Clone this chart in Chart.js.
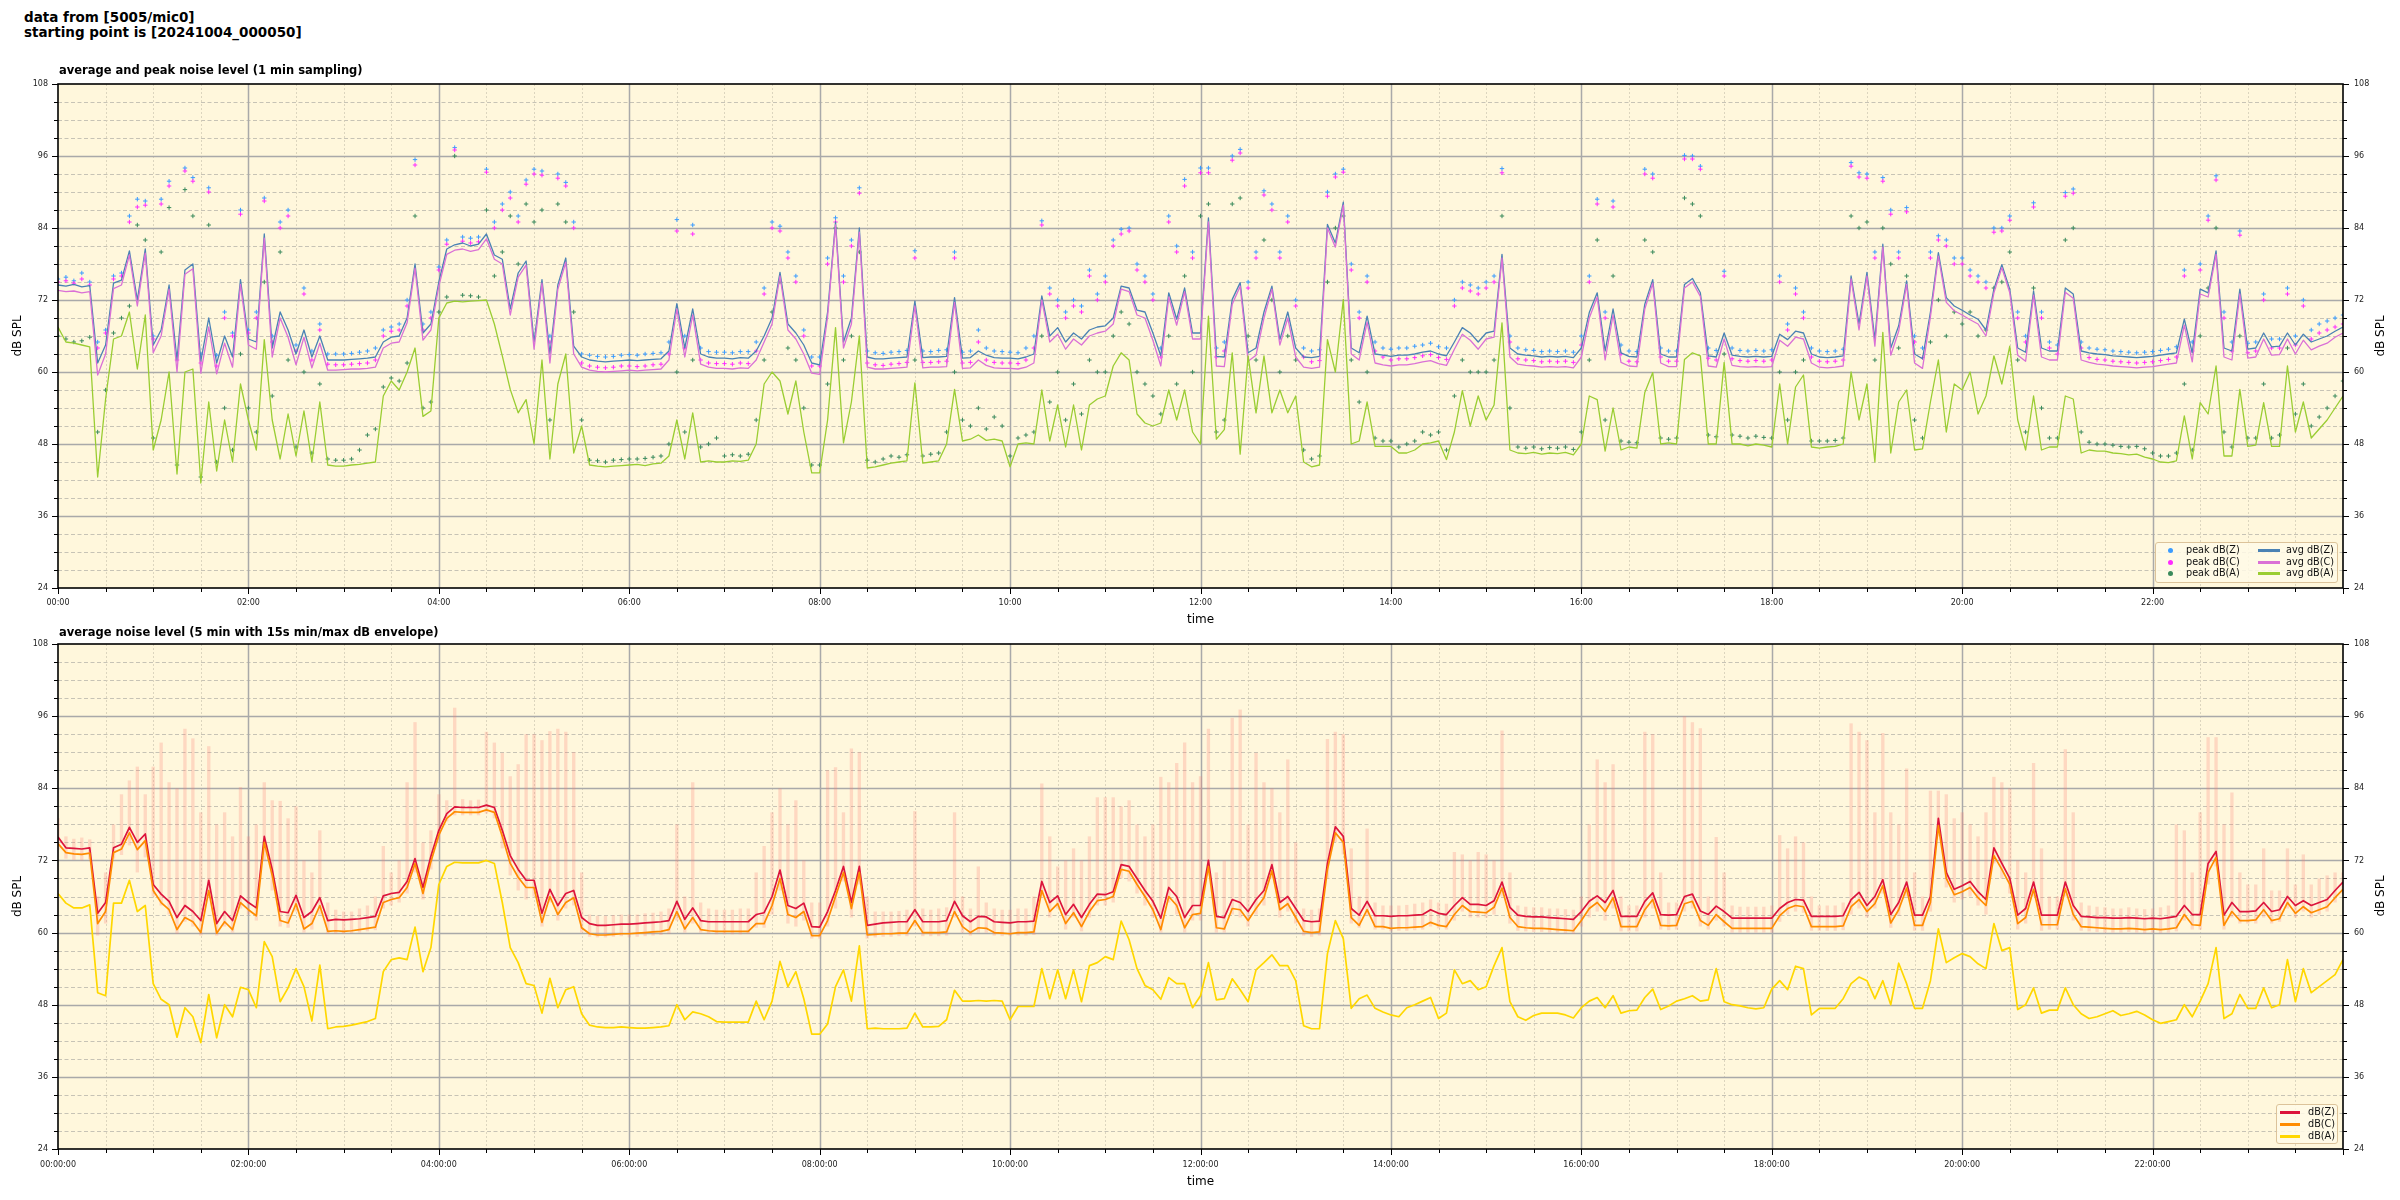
<!DOCTYPE html>
<html>
<head>
<meta charset="utf-8">
<title>noise level 5005/mic0</title>
<script src="https://cdn.jsdelivr.net/npm/chart.js@4.4.1/dist/chart.umd.min.js"></script>
<style>
  html, body { margin: 0; padding: 0; background: #fff; }
  body { position: relative; width: 2400px; height: 1200px; overflow: hidden; font-family: "DejaVu Sans", sans-serif; color: #000; }
  canvas { position: absolute; left: 0; }
  .txt { position: absolute; white-space: nowrap; z-index: 5; }
  .bold { font-weight: bold; }
  .ylab { font-size: 12px; transform: translate(-50%, -50%) rotate(-90deg); }
  .legend { position: absolute; z-index: 6; box-sizing: border-box; border: 1px solid #dcc39a; border-radius: 3px; background: rgba(255, 250, 232, 0.85); font-size: 9.7px; color: #111; }
  .legend span { position: absolute; white-space: nowrap; line-height: 1; }
</style>
</head>
<body>
<div class="txt bold" style="left:24px; top:10px; font-size:13.5px; line-height:15px;">data from [5005/mic0]<br>starting point is [20241004_000050]</div>
<div class="txt bold" style="left:59px; top:63px; font-size:11.5px; line-height:14px;">average and peak noise level (1 min sampling)</div>
<div class="txt bold" style="left:59px; top:625px; font-size:11.5px; line-height:14px;">average noise level (5 min with 15s min/max dB envelope)</div>
<div class="txt ylab" style="left:2380px; top:336px;">dB SPL</div>
<div class="txt ylab" style="left:2380px; top:896px;">dB SPL</div>
<canvas id="topChart" width="2400" height="564" style="top:68px"></canvas>
<canvas id="bottomChart" width="2400" height="568" style="top:628px"></canvas>
<script>
// all series every 5 minutes, 00:00 .. 24:00 (289 values)
const STEP_MIN = 5;

// ---- top panel: 1 min averages ----
const avgZ = [
  74.5, 74.3, 74.6, 74.2, 74.4, 61.5, 64.5, 74.8, 75.3, 80.2, 72.0, 80.5, // 00h
  64.5, 67.0, 74.5, 62.0, 77.0, 78.0, 61.8, 69.0, 61.5, 66.0, 62.5, 75.4,
  65.5, 65.0, 83.0, 64.0, 70.0, 67.0, 63.0, 67.0, 62.5, 66.0, 62.0, 62.0,
  62.0, 62.1, 62.2, 62.3, 62.5, 65.0, 65.8, 66.0, 69.0, 78.0, 66.5, 68.0,
  75.0, 80.5, 81.2, 81.5, 81.0, 81.3, 83.0, 79.5, 78.8, 70.5, 76.5, 78.5, // 04h
  65.0, 75.4, 63.0, 74.5, 79.0, 64.3, 62.5, 62.0, 61.8, 61.7, 61.8, 61.9,
  62.0, 61.9, 62.0, 62.1, 62.2, 63.5, 71.4, 64.0, 70.5, 63.0, 62.5, 62.3,
  62.3, 62.2, 62.4, 62.3, 63.5, 66.0, 69.0, 76.6, 68.0, 66.5, 64.5, 61.5,
  61.2, 70.0, 85.0, 65.0, 69.0, 84.0, 62.5, 62.2, 62.2, 62.3, 62.4, 62.5, // 08h
  71.8, 62.4, 62.5, 62.5, 62.6, 72.4, 62.3, 62.4, 63.5, 62.8, 62.4, 62.3,
  62.3, 62.2, 62.5, 63.0, 72.7, 66.0, 67.4, 65.0, 66.5, 65.5, 67.0, 67.5,
  67.7, 69.0, 74.3, 74.0, 70.3, 70.0, 66.5, 62.7, 73.2, 68.8, 74.0, 66.5,
  66.5, 85.7, 62.6, 62.5, 72.1, 74.9, 63.2, 64.0, 70.0, 74.3, 65.4, 70.0, // 12h
  64.0, 62.5, 62.4, 62.6, 84.6, 81.5, 88.3, 64.0, 63.2, 69.3, 63.0, 62.8,
  62.6, 62.8, 62.8, 63.0, 63.3, 63.5, 63.0, 62.7, 65.0, 67.4, 66.5, 65.0,
  66.5, 66.8, 79.6, 64.0, 63.0, 62.8, 62.7, 62.5, 62.6, 62.5, 62.6, 62.4,
  64.0, 69.9, 73.2, 63.5, 70.5, 63.2, 62.6, 62.5, 71.3, 75.4, 63.0, 62.5, // 16h
  62.5, 74.6, 75.6, 73.2, 62.7, 62.5, 66.5, 62.8, 62.6, 62.5, 62.6, 62.5,
  62.6, 66.3, 65.4, 66.8, 66.5, 63.0, 62.5, 62.4, 62.5, 62.7, 76.0, 68.0,
  76.6, 65.4, 81.3, 64.0, 67.7, 75.2, 63.0, 62.2, 70.0, 79.9, 72.4, 71.0,
  70.3, 69.5, 68.8, 67.0, 73.8, 77.9, 73.8, 64.0, 63.3, 73.5, 64.0, 63.5, // 20h
  63.5, 74.0, 73.0, 63.5, 63.2, 63.0, 62.9, 62.7, 62.6, 62.5, 62.4, 62.5,
  62.6, 62.8, 63.0, 63.2, 68.8, 63.2, 73.8, 73.2, 80.2, 64.0, 63.5, 73.8,
  63.8, 64.0, 66.5, 64.2, 64.3, 66.5, 64.5, 66.3, 65.0, 65.5, 66.0, 66.8, 67.5
];
const avgC = [
  73.6, 73.4, 73.5, 73.2, 73.4, 59.5, 63.0, 73.9, 74.5, 79.5, 71.0, 79.8,
  63.2, 66.0, 73.8, 60.0, 76.3, 77.2, 59.8, 67.5, 59.7, 64.8, 60.8, 74.6,
  64.5, 63.8, 82.3, 62.5, 69.0, 65.8, 61.2, 65.8, 60.7, 64.8, 60.3, 60.3,
  60.4, 60.5, 60.5, 60.6, 60.8, 64.0, 64.8, 65.0, 68.2, 77.3, 65.3, 67.0,
  74.3, 79.6, 80.3, 80.5, 80.1, 80.4, 82.2, 78.8, 78.0, 69.5, 75.8, 77.8,
  63.8, 74.8, 61.5, 73.8, 78.3, 63.0, 60.8, 60.3, 60.1, 60.0, 60.1, 60.2,
  60.3, 60.2, 60.3, 60.4, 60.5, 62.0, 70.5, 62.5, 69.5, 61.3, 60.8, 60.6,
  60.6, 60.5, 60.7, 60.6, 62.0, 65.0, 68.0, 76.0, 67.0, 65.5, 63.0, 59.8,
  59.6, 69.2, 84.5, 64.0, 68.0, 83.3, 60.8, 60.5, 60.5, 60.6, 60.7, 60.8,
  71.0, 60.7, 60.8, 60.8, 60.9, 71.6, 60.6, 60.7, 62.0, 61.1, 60.7, 60.6,
  60.6, 60.5, 60.8, 61.5, 72.0, 65.0, 66.3, 63.8, 65.5, 64.5, 66.0, 66.5,
  66.8, 68.0, 73.8, 73.4, 69.5, 69.0, 65.3, 61.0, 72.5, 67.8, 73.4, 65.5,
  65.5, 85.0, 61.0, 60.9, 71.3, 74.3, 61.8, 62.8, 69.0, 73.8, 64.5, 69.0,
  62.5, 60.8, 60.6, 60.8, 84.0, 80.8, 87.8, 63.0, 62.0, 68.3, 61.5, 61.2,
  61.0, 61.2, 61.2, 61.4, 61.7, 61.9, 61.4, 61.1, 63.8, 66.3, 65.3, 63.8,
  65.5, 65.8, 79.0, 62.5, 61.3, 61.1, 61.0, 60.8, 60.9, 60.8, 60.9, 60.7,
  62.5, 69.0, 72.5, 62.0, 69.5, 61.6, 61.0, 60.9, 70.5, 74.8, 61.5, 60.9,
  60.9, 74.0, 75.0, 72.6, 61.0, 60.8, 65.5, 61.1, 60.9, 60.8, 60.9, 60.8,
  60.9, 65.3, 64.3, 65.8, 65.5, 61.5, 60.8, 60.7, 60.8, 61.0, 75.5, 67.0,
  76.0, 64.3, 80.8, 62.8, 66.8, 74.6, 61.5, 60.6, 69.2, 79.3, 71.6, 70.2,
  69.5, 68.7, 68.0, 66.0, 73.2, 77.4, 73.2, 62.8, 61.8, 72.8, 62.5, 62.0,
  62.0, 73.3, 72.3, 62.0, 61.6, 61.3, 61.2, 61.0, 60.9, 60.8, 60.7, 60.8,
  60.9, 61.1, 61.3, 61.5, 67.8, 61.7, 73.0, 72.5, 79.6, 62.5, 62.0, 73.0,
  62.3, 62.5, 65.5, 62.8, 62.9, 65.5, 63.0, 65.3, 63.7, 64.3, 64.8, 65.8, 66.5
];
const avgA = [
  67.5, 65.0, 64.8, 64.5, 64.2, 42.5, 55.5, 65.5, 66.0, 70.0, 60.5, 69.5,
  47.0, 52.0, 60.0, 43.0, 60.0, 60.5, 41.5, 55.0, 43.5, 52.0, 45.0, 58.0,
  52.0, 47.0, 65.4, 52.0, 45.5, 53.0, 46.0, 53.5, 45.0, 55.0, 44.5, 44.3,
  44.3, 44.5, 44.6, 44.8, 45.0, 56.0, 58.5, 57.0, 60.0, 64.0, 52.6, 53.5,
  69.0, 71.5, 71.8, 71.7, 71.8, 71.9, 72.0, 68.0, 62.7, 57.1, 53.2, 55.4,
  48.0, 62.0, 45.5, 58.0, 63.0, 46.5, 51.0, 44.5, 44.3, 44.2, 44.3, 44.4,
  44.5, 44.6, 44.4, 44.7, 44.8, 46.0, 52.0, 45.5, 53.2, 45.0, 45.2, 45.0,
  45.0, 45.2, 45.1, 45.3, 48.0, 58.0, 60.0, 58.5, 53.0, 58.5, 50.0, 43.2,
  43.2, 52.0, 67.4, 48.2, 55.0, 66.0, 44.0, 44.2, 44.5, 44.8, 45.0, 45.2,
  58.2, 44.8, 45.0, 45.2, 48.0, 57.1, 48.5, 48.8, 49.5, 48.6, 48.8, 48.5,
  44.2, 48.0, 48.2, 48.0, 57.0, 48.5, 54.5, 47.5, 54.5, 47.0, 54.5, 55.5,
  56.0, 61.0, 63.2, 62.0, 53.0, 51.5, 51.0, 51.5, 57.0, 52.0, 57.0, 50.0,
  48.0, 69.3, 48.8, 50.4, 63.2, 46.3, 62.7, 53.2, 62.7, 53.2, 57.0, 53.2,
  56.0, 45.0, 44.2, 44.5, 65.4, 60.0, 72.1, 48.0, 48.5, 55.0, 47.6, 47.6,
  47.6, 46.5, 46.5, 47.0, 48.0, 48.2, 48.5, 45.4, 50.0, 56.9, 51.0, 56.0,
  52.0, 54.5, 68.2, 47.0, 46.5, 46.4, 46.6, 46.3, 46.5, 46.4, 46.6, 46.2,
  48.0, 56.0, 55.4, 46.8, 54.0, 47.0, 47.5, 47.3, 56.6, 59.9, 48.0, 48.2,
  48.0, 62.1, 63.2, 62.7, 48.0, 48.0, 61.6, 48.0, 48.0, 47.7, 48.0, 47.8,
  47.5, 58.0, 48.0, 57.5, 59.5, 47.5, 47.3, 47.5, 47.6, 48.0, 60.0, 52.0,
  58.0, 45.0, 66.6, 46.5, 55.0, 57.0, 47.0, 47.2, 55.0, 62.0, 50.0, 58.0,
  57.0, 60.0, 53.0, 56.0, 62.7, 58.0, 64.3, 52.0, 47.0, 56.0, 47.0, 47.5,
  47.5, 56.0, 55.5, 46.5, 47.0, 46.8, 46.8, 46.5, 46.4, 46.2, 46.3, 45.8,
  45.5, 45.0, 44.9, 45.2, 52.7, 45.5, 54.9, 53.0, 61.0, 46.0, 46.0, 57.1,
  47.6, 47.8, 54.9, 47.6, 47.6, 61.0, 50.0, 55.0, 49.0, 50.5, 52.0, 54.0, 56.0
];

// ---- top panel: 1 min peaks ----
const peakZ = [
  75.5, 75.8, 75.2, 76.5, 75.0, 65.0, 67.0, 76.0, 76.5, 86.0, 88.8, 88.5,
  66.0, 88.8, 91.8, 63.0, 94.0, 92.4, 63.0, 90.7, 62.8, 70.0, 66.5, 87.0,
  67.0, 70.0, 89.0, 66.0, 85.0, 87.0, 64.5, 74.0, 63.5, 68.0, 63.0, 63.0,
  63.0, 63.1, 63.3, 63.5, 64.0, 67.0, 67.5, 68.0, 72.0, 95.4, 68.0, 70.0,
  77.5, 82.0, 97.4, 82.5, 82.3, 82.5, 93.8, 85.0, 88.0, 90.0, 86.0, 92.0,
  93.8, 93.5, 66.0, 93.0, 91.6, 85.0, 63.0, 62.8, 62.6, 62.5, 62.6, 62.8,
  62.9, 62.8, 63.0, 63.1, 63.2, 65.0, 85.4, 66.0, 84.5, 64.0, 63.4, 63.3,
  63.3, 63.2, 63.4, 63.4, 65.0, 74.0, 85.0, 84.3, 80.0, 76.0, 67.0, 62.5,
  62.5, 79.0, 85.7, 76.0, 82.0, 90.7, 63.5, 63.2, 63.1, 63.3, 63.4, 63.6,
  80.2, 63.5, 63.4, 63.6, 63.7, 80.0, 63.3, 63.5, 67.0, 64.0, 63.5, 63.4,
  63.3, 63.2, 64.0, 66.0, 85.2, 74.0, 72.0, 70.0, 72.0, 71.0, 77.0, 73.0,
  76.0, 82.0, 83.8, 84.0, 78.0, 76.0, 73.0, 64.0, 86.0, 81.0, 92.1, 80.0,
  94.0, 94.0, 64.0, 65.0, 96.0, 97.1, 75.0, 80.0, 90.2, 88.0, 80.0, 86.0,
  72.0, 64.0, 63.5, 63.7, 90.0, 93.0, 93.8, 78.0, 70.0, 76.0, 65.0, 64.0,
  63.8, 64.0, 64.0, 64.3, 64.5, 64.8, 64.2, 64.0, 72.0, 75.0, 74.5, 74.0,
  75.0, 76.0, 93.9, 66.0, 64.0, 63.7, 63.6, 63.4, 63.5, 63.4, 63.5, 63.3,
  66.0, 76.0, 88.8, 70.0, 88.5, 64.5, 63.5, 63.4, 93.8, 93.0, 64.0, 63.5,
  63.5, 96.1, 96.0, 94.3, 64.0, 63.6, 76.8, 64.0, 63.6, 63.5, 63.6, 63.5,
  63.7, 76.0, 68.0, 74.0, 70.0, 64.0, 63.5, 63.4, 63.5, 63.8, 94.9, 93.2,
  93.0, 80.0, 92.4, 87.0, 80.0, 87.4, 66.0, 64.0, 80.0, 82.7, 82.0, 79.0,
  79.0, 77.0, 76.0, 75.0, 84.0, 84.0, 86.0, 70.0, 66.0, 88.2, 70.0, 65.0,
  64.5, 89.9, 90.5, 65.0, 64.0, 63.8, 63.7, 63.5, 63.4, 63.3, 63.2, 63.3,
  63.4, 63.6, 63.8, 64.2, 77.0, 65.0, 78.0, 86.0, 92.7, 70.0, 65.0, 83.5,
  64.8, 65.0, 73.0, 65.5, 65.5, 74.0, 66.0, 72.0, 67.0, 68.0, 68.5, 69.0, 69.5
];
const peakC = [
  75.0, 75.2, 74.8, 75.5, 74.5, 64.0, 66.5, 75.5, 76.0, 85.0, 87.5, 87.8,
  65.5, 88.0, 91.0, 62.0, 93.5, 91.8, 61.5, 90.0, 61.0, 69.0, 66.0, 86.3,
  66.5, 69.0, 88.5, 65.0, 84.0, 86.0, 63.5, 73.0, 62.0, 67.0, 61.3, 61.2,
  61.2, 61.3, 61.4, 61.5, 62.0, 66.0, 66.8, 67.0, 71.0, 94.5, 67.0, 69.0,
  77.0, 81.3, 97.0, 81.8, 81.5, 81.7, 93.3, 84.0, 87.0, 89.0, 85.0, 91.3,
  93.0, 92.8, 65.0, 92.3, 91.0, 84.0, 61.5, 61.0, 60.8, 60.7, 60.8, 61.0,
  61.0, 60.9, 61.0, 61.2, 61.3, 63.0, 83.5, 64.0, 83.0, 62.0, 61.5, 61.4,
  61.4, 61.3, 61.5, 61.4, 63.5, 73.0, 84.0, 83.5, 79.0, 75.0, 66.0, 61.0,
  61.0, 78.0, 85.0, 75.0, 81.0, 89.8, 61.5, 61.2, 61.1, 61.3, 61.4, 61.6,
  79.0, 61.6, 61.6, 61.7, 61.8, 79.0, 61.5, 61.6, 65.0, 62.0, 61.6, 61.5,
  61.5, 61.4, 62.0, 64.0, 84.5, 73.0, 71.0, 69.0, 71.0, 70.0, 76.0, 72.0,
  75.0, 81.0, 83.0, 83.5, 77.0, 75.0, 72.0, 62.5, 85.0, 80.0, 91.0, 79.0,
  93.2, 93.2, 62.5, 63.5, 95.3, 96.5, 74.0, 79.0, 89.5, 87.0, 79.0, 85.0,
  71.0, 62.5, 61.7, 61.9, 89.3, 92.5, 93.3, 77.0, 69.0, 75.0, 63.5, 62.5,
  62.0, 62.2, 62.2, 62.4, 62.7, 62.9, 62.4, 62.1, 71.0, 74.0, 73.5, 73.0,
  74.0, 75.0, 93.2, 65.0, 62.2, 62.0, 61.9, 61.7, 61.8, 61.7, 61.8, 61.6,
  64.5, 75.0, 88.0, 69.0, 87.5, 63.0, 61.8, 61.7, 93.0, 92.3, 62.5, 61.8,
  61.8, 95.5, 95.5, 93.8, 62.3, 62.0, 76.0, 62.2, 61.9, 61.8, 61.9, 61.8,
  62.0, 75.0, 67.0, 73.0, 69.0, 62.5, 61.8, 61.7, 61.8, 62.0, 94.3, 92.5,
  92.3, 79.0, 91.8, 86.3, 79.0, 86.7, 65.0, 62.4, 79.0, 82.0, 81.0, 78.0,
  78.0, 76.0, 75.0, 74.0, 83.3, 83.5, 85.3, 69.0, 65.0, 87.5, 69.0, 64.0,
  63.0, 89.3, 89.8, 64.0, 62.4, 62.1, 62.0, 61.8, 61.7, 61.6, 61.5, 61.6,
  61.7, 61.9, 62.1, 62.5, 76.0, 63.5, 77.0, 85.3, 92.0, 69.0, 63.5, 82.8,
  63.2, 63.5, 72.0, 64.0, 64.0, 73.0, 64.5, 71.0, 65.5, 66.5, 67.0, 67.5, 68.0
];
const peakA = [
  66.0, 65.5, 65.0, 65.2, 65.8, 50.0, 57.0, 66.5, 69.0, 71.0, 84.5, 82.0,
  49.0, 80.0, 87.4, 44.5, 90.4, 86.0, 42.5, 84.5, 45.0, 54.0, 47.0, 63.0,
  54.0, 50.0, 75.0, 56.0, 80.0, 62.0, 47.5, 60.0, 46.5, 58.0, 45.5, 45.3,
  45.3, 45.5, 47.0, 49.5, 50.5, 57.5, 59.0, 58.5, 61.5, 86.0, 54.0, 55.0,
  70.0, 72.5, 96.0, 72.8, 72.7, 72.5, 87.0, 76.0, 80.0, 86.0, 78.0, 88.0,
  85.0, 87.0, 52.0, 88.0, 85.0, 70.0, 52.0, 45.3, 45.2, 45.0, 45.3, 45.4,
  45.5, 45.5, 45.6, 45.8, 46.0, 48.0, 60.0, 50.0, 62.0, 47.5, 48.0, 49.0,
  46.0, 46.2, 46.0, 46.3, 52.0, 62.0, 70.0, 75.0, 64.0, 62.0, 54.0, 44.5,
  44.5, 58.0, 84.0, 62.0, 66.0, 80.0, 45.3, 45.0, 45.5, 46.0, 45.8, 46.2,
  62.0, 46.0, 46.3, 46.5, 50.0, 60.0, 52.0, 51.0, 54.0, 50.5, 52.5, 51.0,
  46.0, 49.0, 49.5, 50.0, 66.0, 55.0, 60.0, 52.0, 58.0, 53.0, 62.0, 60.0,
  60.0, 66.0, 70.0, 68.0, 60.0, 58.0, 56.0, 53.0, 66.0, 58.0, 76.0, 60.0,
  86.0, 88.0, 50.0, 52.0, 88.0, 89.0, 66.0, 62.0, 82.0, 72.0, 60.0, 66.0,
  62.0, 47.0, 45.5, 46.0, 75.0, 84.0, 86.0, 62.0, 55.0, 60.0, 49.0, 48.5,
  48.5, 47.5, 48.0, 48.5, 50.0, 49.5, 50.0, 47.0, 56.0, 62.0, 60.0, 60.0,
  60.0, 62.0, 86.0, 54.0, 47.5, 47.3, 47.5, 47.2, 47.4, 47.3, 47.5, 47.1,
  50.0, 62.0, 82.0, 52.0, 76.0, 48.5, 48.3, 48.2, 82.0, 80.0, 49.0, 48.8,
  49.0, 89.0, 88.0, 86.0, 49.5, 49.2, 63.0, 49.5, 49.3, 49.0, 49.3, 49.1,
  49.0, 60.0, 52.0, 60.0, 62.0, 48.5, 48.5, 48.5, 48.6, 49.0, 86.0, 84.0,
  85.0, 62.0, 84.0, 78.0, 64.0, 76.0, 52.0, 49.0, 65.0, 72.0, 66.0, 70.0,
  68.0, 70.0, 66.0, 67.0, 74.0, 75.0, 80.0, 62.0, 50.0, 74.0, 54.0, 49.0,
  49.0, 82.0, 84.0, 50.0, 48.3, 48.0, 48.0, 47.8, 47.6, 47.5, 47.6, 47.2,
  46.5, 46.0, 46.0, 46.5, 58.0, 47.0, 66.0, 74.0, 84.0, 50.0, 47.5, 66.0,
  49.0, 49.0, 58.0, 49.0, 49.5, 64.0, 53.0, 58.0, 51.0, 52.5, 54.0, 56.0, 58.5
];

// ---- bottom panel: 5 min averages ----
const levelZ = [
  75.9, 74.1, 74.0, 73.9, 74.1, 63.2, 65.0, 74.1, 74.7, 77.5, 75.0, 76.4,
  68.0, 66.4, 65.2, 62.5, 64.5, 63.5, 62.0, 68.7, 61.5, 63.5, 62.0, 66.1,
  65.0, 64.1, 76.0, 70.5, 63.5, 63.3, 66.2, 62.5, 63.5, 65.8, 62.0, 62.2,
  62.1, 62.2, 62.3, 62.5, 62.7, 66.1, 66.5, 66.7, 68.5, 72.3, 67.5, 72.7,
  77.0, 79.8, 80.9, 80.8, 80.8, 80.8, 81.2, 80.8, 77.0, 72.8, 70.5, 68.7,
  68.7, 63.2, 67.2, 64.5, 66.5, 67.0, 62.5, 61.5, 61.2, 61.2, 61.3, 61.4,
  61.4, 61.5, 61.6, 61.7, 61.8, 62.0, 65.2, 62.2, 64.1, 62.0, 61.8, 61.8,
  61.8, 61.8, 61.8, 61.8, 63.0, 63.3, 66.0, 70.4, 64.5, 64.0, 64.9, 61.0,
  60.9, 63.5, 67.0, 71.0, 65.0, 71.0, 61.2, 61.4, 61.6, 61.7, 61.8, 61.8,
  63.8, 61.8, 61.8, 61.8, 62.0, 65.2, 62.8, 61.8, 62.7, 62.6, 61.8, 61.7,
  61.6, 61.8, 61.8, 61.9, 68.5, 65.0, 66.1, 63.0, 64.7, 62.5, 64.7, 66.4,
  66.3, 66.8, 71.3, 71.0, 69.0, 67.0, 65.2, 62.4, 67.5, 66.0, 62.5, 64.5,
  64.5, 72.0, 62.7, 62.5, 65.5, 65.0, 63.5, 65.5, 67.0, 71.3, 65.0, 66.0,
  64.0, 62.0, 61.8, 61.9, 71.5, 77.6, 76.0, 64.0, 62.9, 65.2, 62.8, 62.8,
  62.7, 62.8, 62.8, 62.9, 63.0, 63.8, 63.2, 63.0, 64.5, 65.8, 64.7, 64.7,
  64.5, 65.3, 68.4, 64.2, 62.9, 62.7, 62.6, 62.6, 62.5, 62.4, 62.3, 62.2,
  63.5, 65.2, 66.1, 65.0, 67.0, 62.7, 62.7, 62.7, 65.2, 66.6, 63.0, 62.9,
  63.0, 66.0, 66.4, 63.6, 63.0, 64.4, 63.5, 62.4, 62.4, 62.4, 62.4, 62.4,
  62.4, 64.0, 65.0, 65.5, 65.4, 62.7, 62.7, 62.7, 62.7, 62.8, 65.5, 66.7,
  64.5, 66.0, 68.8, 63.0, 65.0, 68.4, 62.9, 62.9, 66.0, 79.0, 70.0, 67.2,
  67.8, 68.5, 66.8, 65.5, 74.1, 71.5, 69.0, 62.9, 64.0, 68.4, 62.9, 62.9,
  62.9, 68.4, 64.5, 62.7, 62.6, 62.5, 62.5, 62.4, 62.4, 62.5, 62.4, 62.3,
  62.4, 62.3, 62.5, 62.7, 64.5, 63.0, 63.0, 71.5, 73.5, 62.9, 65.0, 63.5,
  63.5, 63.6, 65.0, 63.5, 63.8, 66.0, 64.5, 65.3, 64.5, 65.0, 65.5, 67.0, 68.4
];
const levelC = [
  74.8, 73.3, 73.1, 73.0, 73.2, 61.5, 63.5, 73.3, 73.9, 76.6, 73.8, 75.3,
  67.0, 65.0, 63.8, 60.5, 62.5, 61.8, 60.0, 67.0, 59.9, 61.8, 60.5, 65.0,
  63.8, 62.8, 75.0, 69.5, 62.0, 61.6, 64.8, 60.6, 61.5, 64.5, 60.2, 60.3,
  60.2, 60.3, 60.5, 60.7, 60.9, 65.0, 65.5, 65.8, 67.5, 71.5, 66.5, 71.8,
  76.2, 79.0, 80.1, 80.0, 80.0, 80.0, 80.4, 80.0, 76.0, 71.5, 69.2, 67.5,
  67.5, 61.7, 66.0, 63.0, 65.0, 65.8, 60.8, 59.8, 59.6, 59.6, 59.7, 59.8,
  59.8, 59.9, 60.0, 60.1, 60.2, 60.5, 63.5, 60.6, 62.5, 60.5, 60.3, 60.2,
  60.2, 60.2, 60.2, 60.2, 61.5, 61.5, 64.5, 69.0, 63.0, 62.5, 63.5, 59.5,
  59.5, 62.0, 66.0, 70.0, 64.0, 70.0, 59.6, 59.7, 59.8, 59.8, 59.9, 59.9,
  62.0, 60.0, 60.0, 60.0, 60.1, 63.5, 61.0, 60.0, 60.8, 60.7, 60.0, 59.9,
  59.8, 60.0, 60.0, 60.1, 67.0, 63.5, 64.8, 61.5, 63.3, 61.0, 63.5, 65.3,
  65.5, 66.0, 70.5, 70.2, 68.0, 66.0, 63.8, 60.5, 66.0, 64.5, 60.8, 63.0,
  63.2, 71.0, 60.8, 60.6, 64.0, 63.8, 62.0, 64.0, 65.8, 70.3, 63.8, 64.8,
  62.5, 60.2, 60.0, 60.1, 70.5, 76.6, 75.0, 62.5, 61.2, 63.8, 61.0, 61.0,
  60.7, 60.8, 60.8, 60.9, 61.0, 61.7, 61.2, 61.0, 63.0, 64.5, 63.5, 63.4,
  63.3, 64.2, 67.4, 62.5, 61.0, 60.8, 60.7, 60.7, 60.6, 60.5, 60.4, 60.3,
  62.0, 64.0, 65.0, 63.5, 65.8, 61.0, 61.0, 61.0, 63.8, 65.5, 61.2, 61.1,
  61.2, 64.8, 65.2, 62.0, 61.2, 63.0, 61.8, 60.7, 60.7, 60.7, 60.7, 60.7,
  60.7, 62.8, 64.0, 64.5, 64.3, 61.0, 61.0, 61.0, 61.0, 61.1, 64.3, 65.5,
  63.5, 64.8, 67.8, 61.6, 63.8, 67.4, 61.2, 61.2, 65.0, 77.8, 69.0, 66.3,
  66.8, 67.5, 65.8, 64.5, 72.8, 70.5, 68.0, 61.5, 62.5, 67.2, 61.3, 61.3,
  61.3, 67.3, 63.0, 61.0, 60.9, 60.8, 60.7, 60.6, 60.6, 60.7, 60.6, 60.5,
  60.6, 60.5, 60.6, 60.8, 63.0, 61.3, 61.2, 70.0, 72.5, 61.2, 63.5, 62.0,
  62.0, 62.1, 63.8, 62.0, 62.3, 65.0, 63.2, 64.3, 63.3, 63.8, 64.3, 65.8, 67.2
];
const levelA = [
  66.5, 64.9, 64.1, 64.1, 64.6, 50.0, 49.5, 64.9, 64.9, 68.7, 63.5, 64.5,
  51.5, 48.9, 48.0, 42.6, 47.5, 46.0, 41.7, 49.7, 42.5, 48.0, 46.0, 50.9,
  50.5, 47.5, 58.5, 56.0, 48.5, 50.8, 54.0, 51.0, 45.3, 54.6, 44.0, 44.3,
  44.4, 44.6, 44.9, 45.2, 45.7, 53.5, 55.5, 55.8, 55.5, 60.9, 53.5, 57.5,
  68.0, 71.0, 71.7, 71.6, 71.6, 71.6, 72.0, 71.5, 65.0, 57.5, 55.0, 51.5,
  51.2, 46.6, 52.4, 47.5, 50.5, 51.0, 46.5, 44.6, 44.3, 44.2, 44.2, 44.3,
  44.2, 44.1, 44.1, 44.2, 44.3, 44.5, 48.0, 45.5, 46.8, 46.5, 46.0, 45.2,
  45.1, 45.1, 45.1, 45.1, 48.6, 45.5, 48.6, 55.2, 51.0, 53.5, 49.0, 43.1,
  43.1, 44.8, 51.0, 53.8, 48.6, 57.8, 44.0, 44.1, 44.0, 44.0, 44.0, 44.1,
  46.6, 44.3, 44.3, 44.4, 45.5, 50.4, 48.6, 48.6, 48.7, 48.6, 48.7, 48.6,
  45.5, 47.7, 47.7, 47.7, 54.0, 49.0, 53.8, 49.0, 53.8, 48.5, 54.5, 55.0,
  56.0, 55.5, 61.9, 58.8, 54.0, 51.2, 50.5, 48.9, 52.5, 51.5, 51.5, 47.5,
  49.5, 55.0, 48.8, 49.0, 52.3, 50.5, 48.5, 53.8, 55.0, 56.3, 54.5, 54.5,
  52.0, 44.5, 44.0, 44.0, 56.5, 62.0, 59.0, 47.4, 49.0, 49.6, 47.4, 46.8,
  46.3, 46.0, 47.5, 48.0, 48.6, 49.2, 45.7, 46.6, 53.8, 51.5, 52.0, 50.5,
  51.0, 54.5, 57.5, 48.5, 46.0, 45.4, 46.2, 46.6, 46.6, 46.6, 46.3, 45.8,
  47.5, 48.6, 49.2, 47.5, 49.5, 46.6, 47.0, 47.1, 49.2, 50.6, 47.2, 47.8,
  48.6, 49.0, 49.5, 48.6, 48.8, 54.0, 48.5, 48.0, 47.8, 47.5, 47.3, 47.5,
  50.6, 52.0, 50.5, 54.4, 54.0, 46.3, 47.4, 47.4, 47.4, 49.0, 51.5, 52.6,
  52.0, 49.0, 52.0, 48.0, 54.9, 51.5, 47.4, 47.4, 52.0, 60.6, 55.0, 55.8,
  56.5, 56.0, 54.8, 54.0, 61.5, 57.0, 57.5, 47.2, 48.0, 50.8, 46.6, 47.1,
  47.1, 50.8, 48.0, 46.5, 45.7, 46.0, 46.5, 47.0, 46.2, 46.5, 46.9, 46.3,
  45.5, 44.9, 45.2, 45.5, 48.0, 46.0, 48.6, 51.5, 57.5, 45.7, 46.5, 49.7,
  47.4, 47.4, 50.8, 47.5, 48.0, 55.5, 48.5, 54.0, 50.0, 51.0, 52.0, 53.0, 55.5
];

// ---- bottom panel: 15 s min / max envelope ----
const envLow = [
  73.8, 72.3, 72.1, 72.0, 72.2, 59.5, 61.5, 72.3, 72.9, 74.5, 70.0, 72.5,
  66.0, 64.5, 63.0, 59.8, 61.8, 61.0, 59.5, 66.0, 59.5, 61.0, 60.0, 64.0,
  63.0, 62.0, 72.0, 67.0, 61.0, 60.8, 63.5, 60.0, 60.5, 63.0, 59.8, 59.8,
  59.8, 59.9, 60.0, 60.2, 60.4, 64.0, 64.5, 65.0, 66.5, 70.0, 65.5, 70.5,
  75.0, 78.5, 79.5, 79.5, 79.5, 79.5, 79.8, 79.0, 74.0, 69.5, 67.0, 65.5,
  66.0, 61.0, 65.0, 62.0, 64.0, 64.5, 60.0, 59.3, 59.2, 59.2, 59.3, 59.4,
  59.2, 59.3, 59.4, 59.5, 59.6, 59.8, 62.0, 60.0, 61.5, 60.0, 59.8, 59.7,
  59.7, 59.7, 59.7, 59.8, 60.8, 60.8, 63.0, 67.0, 61.5, 61.0, 62.0, 59.0,
  59.0, 61.0, 64.0, 68.5, 62.5, 68.0, 59.0, 59.2, 59.3, 59.3, 59.4, 59.4,
  61.0, 59.4, 59.4, 59.4, 59.5, 62.5, 60.0, 59.5, 60.0, 60.0, 59.5, 59.4,
  59.4, 59.5, 59.5, 59.6, 66.0, 62.5, 64.0, 60.5, 62.5, 60.2, 62.5, 64.5,
  64.5, 65.0, 69.0, 68.5, 66.5, 64.5, 62.5, 60.0, 65.0, 63.0, 60.0, 62.0,
  62.0, 69.5, 60.0, 60.0, 63.0, 62.5, 61.0, 63.0, 64.5, 69.0, 62.5, 63.5,
  61.5, 59.5, 59.3, 59.5, 69.0, 75.0, 73.0, 61.5, 60.8, 62.8, 60.5, 60.5,
  60.2, 60.3, 60.3, 60.4, 60.5, 61.0, 60.7, 60.5, 62.0, 63.5, 62.5, 62.5,
  62.5, 63.0, 66.0, 61.5, 60.3, 60.2, 60.1, 60.1, 60.0, 60.0, 59.9, 59.8,
  61.0, 62.5, 63.5, 62.0, 64.0, 60.2, 60.2, 60.2, 62.5, 64.0, 60.5, 60.4,
  60.5, 63.5, 64.0, 61.0, 60.5, 62.0, 61.0, 60.0, 60.0, 60.0, 60.0, 60.0,
  60.0, 61.8, 63.0, 63.5, 63.3, 60.3, 60.3, 60.3, 60.3, 60.4, 63.0, 64.0,
  62.5, 64.0, 66.5, 60.8, 62.8, 66.0, 60.3, 60.3, 63.5, 76.0, 67.5, 65.0,
  65.5, 66.0, 64.5, 63.0, 71.5, 69.0, 66.5, 60.5, 61.5, 66.0, 60.3, 60.5,
  60.5, 66.0, 62.0, 60.3, 60.2, 60.1, 60.0, 60.0, 60.0, 60.1, 60.0, 59.9,
  60.0, 59.9, 60.0, 60.2, 62.0, 60.5, 60.5, 68.0, 71.0, 60.5, 62.5, 61.5,
  61.5, 61.5, 62.5, 61.5, 61.8, 64.0, 62.5, 63.5, 62.5, 63.0, 63.5, 65.0, 66.5
];
const envHigh = [
  79.0, 76.0, 75.6, 75.8, 75.5, 66.0, 70.0, 78.0, 83.0, 85.3, 87.6, 83.0,
  87.6, 91.6, 85.0, 84.0, 93.9, 92.3, 80.0, 91.0, 78.0, 80.0, 76.0, 84.2,
  76.0, 78.0, 85.0, 82.0, 81.9, 79.0, 81.0, 72.0, 70.0, 77.0, 65.0, 63.8,
  63.5, 63.5, 64.0, 64.5, 66.0, 74.4, 70.0, 72.0, 85.0, 95.0, 75.0, 77.0,
  83.0, 82.0, 97.4, 82.2, 82.0, 82.1, 93.4, 91.6, 89.9, 86.0, 88.0, 93.0,
  93.0, 92.0, 93.5, 93.9, 93.4, 90.0, 70.0, 63.0, 62.8, 62.8, 62.9, 63.0,
  63.0, 63.0, 63.2, 63.3, 63.5, 64.0, 78.0, 66.0, 85.0, 65.0, 64.0, 63.8,
  63.8, 63.8, 64.0, 64.0, 70.0, 74.4, 80.0, 84.0, 78.0, 82.0, 72.0, 65.0,
  65.0, 87.0, 87.5, 80.0, 90.6, 90.0, 66.0, 63.5, 63.5, 63.5, 63.6, 63.8,
  80.2, 64.0, 63.8, 64.0, 64.2, 80.0, 66.0, 64.0, 71.0, 65.0, 64.0, 63.8,
  63.8, 64.0, 64.0, 66.0, 84.8, 76.0, 71.0, 72.0, 74.0, 72.0, 76.0, 82.5,
  82.5, 82.5, 81.0, 82.0, 78.0, 76.0, 78.0, 85.9, 85.0, 88.2, 91.6, 85.0,
  86.0, 93.9, 70.0, 72.0, 95.7, 97.1, 78.0, 89.9, 85.0, 84.0, 80.0, 88.8,
  75.0, 64.0, 63.8, 64.0, 92.2, 93.4, 93.0, 74.0, 66.0, 77.3, 65.0, 64.5,
  64.5, 64.5, 64.6, 64.8, 65.0, 65.5, 65.0, 64.8, 73.4, 73.0, 72.0, 73.4,
  73.0, 72.0, 93.6, 70.0, 64.5, 64.3, 64.2, 64.2, 64.0, 64.0, 63.9, 63.8,
  66.0, 78.0, 88.8, 85.0, 88.0, 66.0, 64.5, 64.5, 93.4, 93.0, 70.0, 65.0,
  65.0, 96.0, 95.0, 94.0, 66.0, 75.9, 70.0, 64.5, 64.3, 64.3, 64.3, 64.3,
  64.5, 76.2, 74.0, 76.0, 75.0, 66.0, 64.5, 64.5, 64.5, 65.0, 94.8, 93.4,
  92.0, 80.0, 93.2, 80.0, 78.0, 87.3, 70.0, 66.0, 83.6, 83.6, 83.0, 79.0,
  80.0, 78.0, 76.0, 80.0, 85.9, 85.0, 84.0, 72.0, 70.0, 88.2, 74.0, 66.0,
  66.0, 90.5, 80.0, 65.0, 64.5, 64.3, 64.2, 64.0, 64.0, 64.2, 64.0, 63.9,
  64.0, 64.2, 64.5, 78.0, 77.0, 70.0, 80.0, 92.5, 92.5, 78.0, 83.3, 70.0,
  68.0, 68.0, 74.0, 67.0, 67.0, 74.0, 68.0, 73.0, 68.0, 69.0, 69.5, 70.0, 70.0
];

// axis layout
const Y_MIN = 24, Y_MAX = 108, Y_STEP = 12, Y_MINOR = 3;
const T_MAX = 1440, T_STEP = 120, T_MINOR = 30;
const FONT = '"DejaVu Sans", sans-serif';

Chart.defaults.font.family = FONT;
Chart.defaults.color = '#1a1a1a';

const xy = vals => vals.map((v, i) => ({ x: i * STEP_MIN, y: v }));
const pad2 = n => String(n).padStart(2, '0');
const hhmm = m => pad2(Math.floor(m / 60)) + ':' + pad2(m % 60);

// matplotlib-like background, grid, ticks and frame
const mplAxes = {
  id: 'mplAxes',
  beforeDraw(chart) {
    const { ctx, chartArea: a } = chart;
    ctx.save();
    ctx.fillStyle = '#fff7dc';
    ctx.fillRect(a.left, a.top, a.width, a.height);
    ctx.restore();
  },
  beforeDatasetsDraw(chart) {
    const { ctx, chartArea: a, scales: { x, y } } = chart;
    const hline = v => {
      const py = Math.round(y.getPixelForValue(v)) + 0.5;
      ctx.beginPath(); ctx.moveTo(a.left, py); ctx.lineTo(a.right, py); ctx.stroke();
    };
    const vline = m => {
      const px = Math.round(x.getPixelForValue(m)) + 0.5;
      ctx.beginPath(); ctx.moveTo(px, a.top); ctx.lineTo(px, a.bottom); ctx.stroke();
    };
    ctx.save();
    ctx.lineWidth = 0.8;
    ctx.strokeStyle = '#b9b5ab';
    ctx.setLineDash([4, 2.5]);
    for (let v = Y_MIN + Y_MINOR; v < Y_MAX; v += Y_MINOR) if ((v - Y_MIN) % Y_STEP) hline(v);
    ctx.strokeStyle = '#d3ccb6';
    ctx.setLineDash([2, 2]);
    for (let m = T_MINOR; m < T_MAX; m += T_MINOR) if (m % T_STEP) vline(m);
    ctx.setLineDash([]);
    ctx.strokeStyle = '#a9a9a9';
    ctx.lineWidth = 1.5;
    for (let v = Y_MIN + Y_STEP; v < Y_MAX; v += Y_STEP) hline(v);
    for (let m = T_STEP; m < T_MAX; m += T_STEP) vline(m);
    ctx.restore();
  },
  afterDraw(chart) {
    const { ctx, chartArea: a, scales: { x, y } } = chart;
    ctx.save();
    ctx.strokeStyle = '#000';
    ctx.lineWidth = 1;
    ctx.beginPath();
    for (let v = Y_MIN; v <= Y_MAX; v += Y_MINOR) {
      const len = (v - Y_MIN) % Y_STEP ? 4 : 6;
      const py = Math.round(y.getPixelForValue(v)) + 0.5;
      ctx.moveTo(a.left - len, py); ctx.lineTo(a.left, py);
      ctx.moveTo(a.right, py); ctx.lineTo(a.right + len, py);
    }
    for (let m = 0; m <= T_MAX; m += T_MINOR) {
      const len = m % T_STEP ? 4 : 6;
      const px = Math.round(x.getPixelForValue(m)) + 0.5;
      ctx.moveTo(px, a.bottom); ctx.lineTo(px, a.bottom + len);
    }
    ctx.stroke();
    ctx.lineWidth = 1.6;
    ctx.strokeRect(a.left, a.top, a.width, a.height);
    ctx.restore();
  }
};

function makeScales(fmt, xPad, xHeight, titlePad) {
  const yTicks = { stepSize: Y_STEP, font: { size: 8 }, color: '#222' };
  return {
    x: {
      type: 'linear', min: 0, max: T_MAX, offset: false,
      grid: { display: false, drawTicks: false },
      border: { display: false },
      ticks: { stepSize: T_STEP, autoSkip: false, maxRotation: 0, padding: xPad, font: { size: 8 }, color: '#222',
               callback: v => (v < T_MAX ? fmt(v) : null) },
      title: { display: true, text: 'time', font: { size: 12 }, color: '#000', padding: { top: 0, bottom: titlePad } },
      afterFit: s => { s.height = xHeight; }
    },
    y: {
      type: 'linear', position: 'left', min: Y_MIN, max: Y_MAX,
      grid: { display: false, drawTicks: false },
      border: { display: false },
      ticks: { ...yTicks, padding: 10 },
      title: { display: true, text: 'dB SPL', font: { size: 12 }, color: '#000', padding: { top: 11, bottom: 0 } },
      afterFit: s => { s.width = 58; }
    },
    y2: {
      type: 'linear', position: 'right', min: Y_MIN, max: Y_MAX,
      grid: { display: false, drawTicks: false },
      border: { display: false },
      ticks: { ...yTicks, padding: 11 },
      afterFit: s => { s.width = 57; }
    }
  };
}

// top padding 16 covers the half label + tick padding that Chart.js reserves
const baseOptions = (scales) => ({
  responsive: false,
  animation: false,
  devicePixelRatio: 1,
  events: [],
  layout: { padding: { top: 16, left: 0, right: 0, bottom: 0 } },
  plugins: { legend: { display: false }, tooltip: { enabled: false } },
  scales
});

const avgLine = (label, vals, color, order, legendAt) => ({
  type: 'line', label, data: xy(vals), borderColor: color, backgroundColor: color,
  borderWidth: 1.3, pointRadius: 0, tension: 0, borderJoinStyle: 'round', order, legendAt
});
const peakDots = (label, vals, color, order, legendAt) => ({
  type: 'scatter', label, data: xy(vals), borderColor: color, backgroundColor: color,
  pointStyle: 'cross', pointRadius: 2.2, pointBorderWidth: 1, showLine: false, order, legendAt
});

const topChart = new Chart(document.getElementById('topChart'), {
  type: 'line',
  data: {
    datasets: [
      peakDots('peak dB(Z)', peakZ, '#3b9cff', 6, [0, 0]),
      peakDots('peak dB(C)', peakC, '#ff2bff', 5, [0, 1]),
      peakDots('peak dB(A)', peakA, '#3a8a5c', 4, [0, 2]),
      avgLine('avg dB(Z)', avgZ, '#4a82b4', 3, [1, 0]),
      avgLine('avg dB(C)', avgC, '#da70d6', 2, [1, 1]),
      avgLine('avg dB(A)', avgA, '#9acd32', 1, [1, 2])
    ]
  },
  options: baseOptions(makeScales(hhmm, 10, 44, 5)),
  plugins: [mplAxes]
});

const levelLine = (label, vals, color, order, legendAt) => ({
  type: 'line', label, data: xy(vals), borderColor: color, backgroundColor: color,
  borderWidth: 1.7, pointRadius: 0, tension: 0, borderJoinStyle: 'round', order, legendAt
});

const bottomChart = new Chart(document.getElementById('bottomChart'), {
  type: 'line',
  data: {
    datasets: [
      {
        type: 'bar', label: 'dB min/max envelope',
        data: envLow.map((lo, i) => ({ x: i * STEP_MIN, y: [lo, envHigh[i]] })),
        backgroundColor: 'rgba(250, 128, 114, 0.26)', borderWidth: 0,
        barPercentage: 0.42, categoryPercentage: 1, order: 10
      },
      levelLine('dB(Z)', levelZ, '#dc143c', 3, [0, 0]),
      levelLine('dB(C)', levelC, '#ff8c00', 2, [0, 1]),
      levelLine('dB(A)', levelA, '#ffd700', 1, [0, 2])
    ]
  },
  options: baseOptions(makeScales(m => hhmm(m) + ':00', 11, 47, 7)),
  plugins: [mplAxes]
});

// legends drawn as html boxes inside the plot, built from the datasets
function addLegend(chart, box, cols, rowY) {
  const el = document.createElement('div');
  el.className = 'legend';
  Object.assign(el.style, { left: box[0] + 'px', top: box[1] + 'px', width: box[2] + 'px', height: box[3] + 'px' });
  chart.data.datasets.forEach(ds => {
    if (!ds.legendAt) return;
    const [c, r] = ds.legendAt;
    const col = cols[c], cy = rowY[r];
    const mark = document.createElement('span');
    if (ds.type === 'scatter') {
      Object.assign(mark.style, { left: (col.mark - 2.5) + 'px', top: (cy - 2.5) + 'px', width: '5px', height: '5px',
                                  borderRadius: '50%', background: ds.borderColor });
    } else {
      Object.assign(mark.style, { left: col.mark + 'px', top: (cy - 1.5) + 'px', width: col.markW + 'px', height: '3px',
                                  background: ds.borderColor });
    }
    const txt = document.createElement('span');
    txt.textContent = ds.label;
    Object.assign(txt.style, { left: col.text + 'px', top: (cy - 5) + 'px' });
    el.append(mark, txt);
  });
  document.body.appendChild(el);
}

addLegend(topChart, [2155, 542, 183, 41],
  [{ mark: 14, text: 30 }, { mark: 102, markW: 22, text: 130 }], [7, 19, 30]);
addLegend(bottomChart, [2276, 1104, 62, 40],
  [{ mark: 3, markW: 20, text: 31 }], [7, 19, 31]);
</script>
</body>
</html>
